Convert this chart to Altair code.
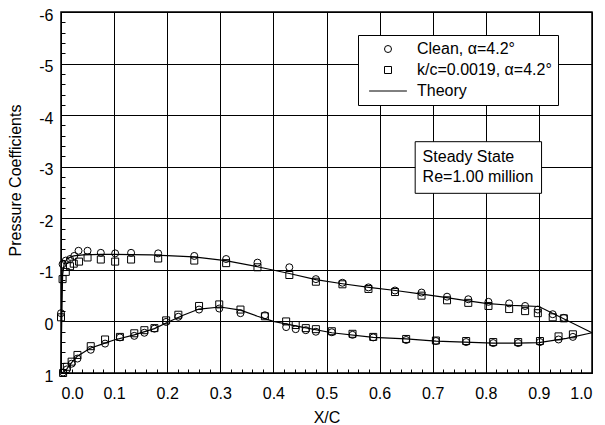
import altair as alt
import pandas as pd

FONT = "Liberation Sans"
SERIES = ["Clean, \u03b1=4.2\u00b0", "k/c=0.0019, \u03b1=4.2\u00b0", "Theory"]

# --- Clean airfoil (circles) ---
clean_up_x = [0.0, 0.003, 0.009, 0.017, 0.025, 0.033, 0.050, 0.075, 0.102, 0.132, 0.183, 0.251, 0.311,
              0.370, 0.430, 0.480, 0.530, 0.579, 0.629, 0.679, 0.727, 0.767, 0.805, 0.844, 0.874, 0.898,
              0.926, 0.947]
clean_up_cp = [-0.16, -1.11, -1.18, -1.21, -1.27, -1.37, -1.37, -1.33, -1.32, -1.33, -1.32, -1.27, -1.21,
               -1.14, -1.05, -0.82, -0.75, -0.66, -0.60, -0.56, -0.48, -0.43, -0.38, -0.35, -0.30, -0.23,
               -0.14, -0.07]
clean_lo_x = [0.004, 0.011, 0.020, 0.031, 0.056, 0.083, 0.111, 0.138, 0.157, 0.176, 0.198, 0.221, 0.260,
              0.298, 0.338, 0.384, 0.424, 0.442, 0.461, 0.480, 0.510, 0.549, 0.588, 0.650, 0.706, 0.763,
              0.814, 0.861, 0.902, 0.937, 0.964]
clean_lo_cp = [0.99, 0.93, 0.82, 0.72, 0.55, 0.43, 0.31, 0.28, 0.22, 0.14, 0.01, -0.09, -0.23,
               -0.25, -0.16, -0.12, 0.11, 0.15, 0.17, 0.20, 0.21, 0.26, 0.31, 0.36, 0.38, 0.40,
               0.42, 0.42, 0.40, 0.35, 0.30]

# --- Rough airfoil k/c=0.0019 (squares) ---
rough_up_x = [0.0, 0.003, 0.009, 0.017, 0.024, 0.034, 0.050, 0.075, 0.102, 0.132, 0.183, 0.251, 0.311,
              0.370, 0.430, 0.480, 0.530, 0.579, 0.629, 0.679, 0.727, 0.767, 0.805, 0.844, 0.874, 0.898,
              0.926, 0.947]
rough_up_cp = [-0.08, -0.82, -0.96, -1.07, -1.12, -1.16, -1.24, -1.20, -1.16, -1.20, -1.22, -1.18, -1.13,
               -1.05, -0.90, -0.77, -0.72, -0.63, -0.57, -0.50, -0.41, -0.36, -0.30, -0.24, -0.20, -0.16,
               -0.08, -0.06]
rough_lo_x = [0.004, 0.011, 0.020, 0.031, 0.056, 0.083, 0.111, 0.138, 0.157, 0.176, 0.198, 0.221, 0.260,
              0.298, 0.338, 0.384, 0.424, 0.442, 0.461, 0.480, 0.510, 0.549, 0.588, 0.650, 0.706, 0.763,
              0.814, 0.861, 0.902, 0.937, 0.964]
rough_lo_cp = [1.00, 0.88, 0.78, 0.65, 0.48, 0.35, 0.30, 0.23, 0.17, 0.13, -0.02, -0.13, -0.30,
               -0.33, -0.23, -0.10, 0.00, 0.07, 0.13, 0.15, 0.19, 0.24, 0.30, 0.34, 0.37, 0.38,
               0.40, 0.40, 0.38, 0.29, 0.25]

# --- Theory ---
th_up_x = [0.0, 0.001, 0.003, 0.006, 0.012, 0.024, 0.042, 0.075, 0.10, 0.17, 0.25, 0.31, 0.37, 0.43,
           0.48, 0.53, 0.58, 0.63, 0.68, 0.72, 0.76, 0.80, 0.85, 0.90, 1.0]
th_up_cp = [1.0, 0.2, -0.9, -1.12, -1.22, -1.27, -1.29, -1.30, -1.30, -1.29, -1.25, -1.18, -1.06, -0.93,
            -0.81, -0.73, -0.66, -0.60, -0.53, -0.47, -0.41, -0.35, -0.31, -0.29, 0.22]
th_lo_x = [0.0, 0.005, 0.011, 0.020, 0.030, 0.055, 0.080, 0.10, 0.138, 0.176, 0.20, 0.23, 0.26, 0.30,
           0.338, 0.37, 0.40, 0.444, 0.51, 0.588, 0.65, 0.706, 0.76, 0.814, 0.86, 0.90, 0.952, 1.0]
th_lo_cp = [1.0, 0.98, 0.92, 0.80, 0.68, 0.52, 0.43, 0.36, 0.26, 0.14, 0.02, -0.12, -0.24, -0.28,
            -0.22, -0.10, 0.0, 0.09, 0.22, 0.31, 0.34, 0.38, 0.40, 0.42, 0.42, 0.41, 0.33, 0.22]

x_ticks = [round(i * 0.1, 1) for i in range(11)]
y_ticks = list(range(-6, 2))
x_minor = [round(i * 0.02, 2) for i in range(51)]
y_minor = [round(-6 + i * 0.2, 1) for i in range(36)]

note_lines = ["Steady State", "Re=1.00 million"]

# ---------- tables ----------
rows = []
for xs, cs, s in [(clean_up_x, clean_up_cp, SERIES[0]), (clean_lo_x, clean_lo_cp, SERIES[0]),
                  (rough_up_x, rough_up_cp, SERIES[1]), (rough_lo_x, rough_lo_cp, SERIES[1])]:
    for xv, cv in zip(xs, cs):
        rows.append({"x": xv, "cp": cv, "series": s})
pts = pd.DataFrame(rows)

trows = []
for surf, xs, cs in [("upper", th_up_x, th_up_cp), ("lower", th_lo_x, th_lo_cp)]:
    for i, (xv, cv) in enumerate(zip(xs, cs)):
        trows.append({"x": xv, "cp": cv, "surface": surf, "idx": i})
theory = pd.DataFrame(trows)

xs_ = alt.Scale(domain=[0, 1], nice=False, zero=False)
ys_ = alt.Scale(domain=[-6, 1], reverse=True, nice=False, zero=False)

legend = alt.Legend(
    title=None, orient="none", legendX=297, legendY=23, direction="vertical",
    fillColor="white", strokeColor="black", padding=6,
    labelFont=FONT, labelFontSize=16, labelColor="black", labelLimit=400,
    labelOffset=21, symbolOffset=16, rowPadding=5,
    symbolSize=49, symbolStrokeColor="black", symbolStrokeWidth=1,
    symbolFillColor="transparent", symbolOpacity=1,
)

main_x_axis = alt.Axis(orient="bottom", values=x_ticks, format=".1f", grid=True, gridColor="black",
                       gridWidth=1, gridOpacity=1, ticks=False, tickSize=0, domain=False, labelPadding=12,
                       labelFont=FONT, labelFontSize=16, labelColor="black",
                       titleFont=FONT, titleFontSize=16, titleFontWeight="normal", titleColor="black",
                       titlePadding=8)
main_y_axis = alt.Axis(orient="left", values=y_ticks, labelExpr="datum.value + ''", grid=True,
                       gridColor="black", gridWidth=1, gridOpacity=1, ticks=False, tickSize=0,
                       domain=False, labelPadding=8, labelOffset=3, labelFont=FONT, labelFontSize=16,
                       labelColor="black", titleFont=FONT, titleFontSize=16, titleFontWeight="normal",
                       titleColor="black", titleX=-38, titleY=168)

minor_x_axis = alt.Axis(orient="bottom", values=x_minor, labels=False, grid=False, domain=False,
                        ticks=True, tickSize=4, offset=-4, tickColor="black", title=None)
minor_y_axis = alt.Axis(orient="left", values=y_minor, labels=False, grid=False, domain=False,
                        ticks=True, tickSize=4, offset=-4, tickColor="black", title=None)

theory_layer = alt.Chart(theory).mark_line(color="black", strokeWidth=1.2).encode(
    x=alt.X("x:Q", scale=xs_, axis=minor_x_axis),
    y=alt.Y("cp:Q", scale=ys_, axis=minor_y_axis),
    detail="surface:N",
    order="idx:Q",
)

points_layer = alt.Chart(pts).mark_point(filled=False, color="black", strokeWidth=1, size=49,
                                         opacity=1).encode(
    x=alt.X("x:Q", scale=xs_, axis=main_x_axis, title="X/C"),
    y=alt.Y("cp:Q", scale=ys_, axis=main_y_axis, title="Pressure Coefficients"),
    shape=alt.Shape("series:N",
                    scale=alt.Scale(domain=SERIES, range=["circle", "square", "M-5.4,0H5.4"]),
                    legend=legend),
)

note_box = alt.Chart(pd.DataFrame({"a": [0]})).mark_rect(
    fill="white", stroke="black", strokeWidth=1
).encode(
    x=alt.datum(0.667, scale=xs_, axis=None), x2=alt.datum(0.905),
    y=alt.datum(-3.485, scale=ys_, axis=None), y2=alt.datum(-2.484),
)

note_df = pd.DataFrame({"label": note_lines, "x": [0.681, 0.681], "cp": [-3.10, -2.71]})
note_text = alt.Chart(note_df).mark_text(
    align="left", baseline="alphabetic", font=FONT, fontSize=16, color="black"
).encode(
    x=alt.X("x:Q", scale=xs_, axis=None),
    y=alt.Y("cp:Q", scale=ys_, axis=None),
    text="label:N",
)

chart = alt.layer(theory_layer, points_layer, note_box, note_text).resolve_axis(
    x="independent", y="independent"
).properties(
    width=531, height=361,
    padding={"left": 53, "top": 4, "right": 5, "bottom": 52},
    autosize=alt.AutoSizeParams(type="none"),
    title=alt.TitleParams("Pressure Coefficient Distribution", font=FONT, fontSize=16,
                          fontWeight="normal", color="black", frame="group", anchor="middle",
                          offset=2, baseline="alphabetic"),
).configure_view(stroke="black", strokeWidth=1.5)

chart.save("out.html", embed_options={"renderer": "svg", "actions": False})
